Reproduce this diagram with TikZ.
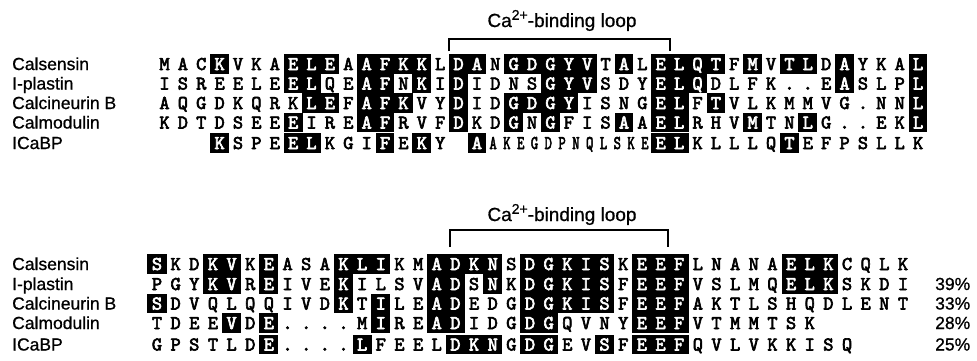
\documentclass[tikz,border=0pt]{standalone}
\usepackage{fontspec}
\setmainfont{Liberation Sans}
\newfontfamily\labfont{Liberation Sans}[FakeBold=0.8]
\newfontfamily\seqfont{lmmono10-regular.otf}[FakeBold=3.2]
\newcount\colno
\def\rowY{0}\def\rowX{0}\def\rowP{0}\def\rowN{r}
\newcommand\seqrow[5]{\def\rowN{#1}\def\rowY{#2}\def\rowX{#3}\def\rowP{#4}\colno=0 \parseseq#5\relax}
\def\parseseq#1{\ifx#1\relax\else\placechar{#1}\advance\colno by 1 \expandafter\parseseq\fi}
\def\placechar#1{%
  \pgfmathsetmacro\cx{\rowX+\the\colno*\rowP}%
  \ifx#1_\relax
  \else\ifx#1.\relax
    \node[seq] (\rowN c\the\colno) at (\cx,\rowY+6) {.};%
  \else
    \ifnum`#1=\lccode`#1\relax
      \fill (\cx-\rowP/2-0.2,\rowY-9.9) rectangle (\cx+\rowP/2+0.2,\rowY+9.9);%
      \node[seqw] (\rowN c\the\colno) at (\cx,\rowY+6) {\uppercase{#1}};%
    \else
      \node[seq] (\rowN c\the\colno) at (\cx,\rowY+6) {#1};%
    \fi
  \fi\fi}
\tikzset{
  seq/.style={font=\seqfont\fontsize{19.5}{19.5}\selectfont, inner sep=0pt, anchor=base},
  seqw/.style={seq, text=white},
  lab/.style={font=\labfont\fontsize{17.5}{17.5}\selectfont, inner sep=0pt, anchor=base west},
  loop/.style={font=\labfont\fontsize{19}{19}\selectfont, inner sep=0pt, anchor=base},
  pct/.style={font=\labfont\fontsize{17.5}{17.5}\selectfont, inner sep=0pt, anchor=base west},
  brk/.style={line width=1.3pt},
}
\newcommand\supr[1]{\raisebox{0.38em}{\fontsize{14}{14}\selectfont #1}}
\begin{document}
\begin{tikzpicture}[x=1pt,y=-1pt]
\useasboundingbox (0,0) rectangle (977,360);
% ---------- block 1 ----------
\node[loop] (loopA) at (562,27) {Ca\supr{2+}-binding loop};
\coordinate (a1) at (449,51); \coordinate (a2) at (449,39);
\coordinate (a3) at (670,39); \coordinate (a4) at (670,51);
\draw[brk] (a1) -- (a2) -- (a3) -- (a4);
\node[lab] (nA1) at (12,70) {Calsensin};
\node[lab] (nA2) at (12,89.5) {I-plastin};
\node[lab] (nA3) at (12,109) {Calcineurin B};
\node[lab] (nA4) at (12,128.5) {Calmodulin};
\node[lab] (nA5) at (12,149) {ICaBP};
\seqrow{a1}{64}{164.5}{18.38}{MACkVKAeleAafkkLdaNgdgyvTaLelqtFmVtlDaYKAl}
\seqrow{a2}{83.5}{164.5}{18.38}{ISREELEelQEafNkIdIDNSgyvSDYelqDLFK..EaSLPl}
\seqrow{a3}{103}{164.5}{18.38}{AQGDKQRKleFafkVYdIDgdgyISNGelFtVLKMMVG.NNl}
\seqrow{a4}{122.5}{164.5}{18.38}{KDTDSEEeIREafRVFdKDgNgFISaAelRHVmTNlG..EKl}
\seqrow{a5}{143}{164.5}{18.38}{___kSPEelKGIfEkY_a_________elKLLLQtEFPSLLK}
\foreach \ch [count=\i from 0] in {A,K,E,G,D,P,N,Q,L,S,K,E}
  \node[seq, xscale=0.72] (ins\i) at (493.1+\i*13.8,149) {\ch};
% ---------- block 2 ----------
\node[loop] (loopB) at (562,221) {Ca\supr{2+}-binding loop};
\coordinate (b1) at (450,247); \coordinate (b2) at (450,230);
\coordinate (b3) at (668,230); \coordinate (b4) at (668,247);
\draw[brk] (b1) -- (b2) -- (b3) -- (b4);
\node[lab] (nB1) at (12,270) {Calsensin};
\node[lab] (nB2) at (12,290) {I-plastin};
\node[lab] (nB3) at (12,309.5) {Calcineurin B};
\node[lab] (nB4) at (12,329) {Calmodulin};
\node[lab] (nB5) at (12,350.5) {ICaBP};
\seqrow{b1}{264}{157}{18.65}{sKDkvKeASAkliKMadknSdgkisKeefLNANAelkCQLK}
\seqrow{b2}{284}{157}{18.65}{PGYkvReIVEkILSVadSnKdgkisFeefVSLMQelkSKDI}
\seqrow{b3}{303.5}{157}{18.65}{sDVQLQQIVDkTiLEadEDGdgkisFeefAKTLSHQDLENT}
\seqrow{b4}{323}{157}{18.65}{TDEEvDe....MiREadIDGdgQVNYeefVTMMTSK}
\seqrow{b5}{344.5}{157}{18.65}{GPSTLDe....lFEELdknGdgEVsFeefQVLVKKISQ}
\node[pct] (p2) at (935,290) {39\%};
\node[pct] (p3) at (935,309.5) {33\%};
\node[pct] (p4) at (935,329) {28\%};
\node[pct] (p5) at (935,350.5) {25\%};
\end{tikzpicture}
\end{document}
